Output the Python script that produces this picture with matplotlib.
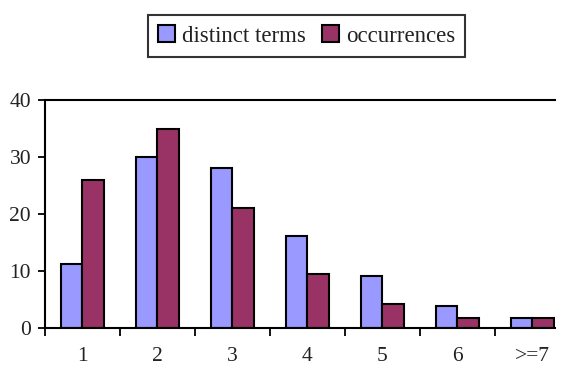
import matplotlib
matplotlib.use("Agg")
from matplotlib import pyplot as plt
import numpy as np

categorias = ["1", "2", "3", "4", "5", "6", ">=7"]
distintos = [11.3, 30, 28, 16.2, 9.2, 3.9, 1.8]
ocurrencias = [26, 35, 21, 9.5, 4.2, 1.8, 1.8]

plt.rcParams['font.family'] = ['Liberation Serif', 'DejaVu Serif']

fig = plt.figure(figsize=(5.65, 3.69), dpi=100)
ax = fig.add_axes([0.0796, 0.111, 0.982 - 0.0796, 0.729 - 0.111])

x = np.arange(len(categorias))
ancho = 0.285
b1 = ax.bar(x - ancho / 2, distintos, ancho, color='#9999FF', edgecolor='black', linewidth=1.5,
            label='distinct terms')
b2 = ax.bar(x + ancho / 2, ocurrencias, ancho, color='#993366', edgecolor='black', linewidth=1.5,
            label='occurrences')

ax.set_ylim(0, 40)
ax.set_xlim(-0.5, 6.3)
ax.set_yticks([0, 10, 20, 30, 40])
ax.tick_params(axis='y', direction='out', length=5, width=1.3, labelsize=15.5, pad=5,
               labelcolor='#222222')

# ticks en los limites de cada categoria, etiquetas centradas
ax.set_xticks(np.arange(-0.5, 6.5, 1.0))
ax.set_xticklabels([])
ax.set_xticks(x, minor=True)
ax.set_xticklabels(categorias, minor=True, fontsize=15.5, color='#222222')
ax.tick_params(axis='x', which='major', direction='out', length=6, width=1.3)
ax.tick_params(axis='x', which='minor', length=0, pad=14)

for lado in ['left', 'bottom', 'top']:
    ax.spines[lado].set_linewidth(1.5)
ax.spines['right'].set_visible(False)

leg = fig.legend(handles=[b1, b2], loc='center', bbox_to_anchor=(0.5425, 0.902), ncol=2,
                 fontsize=16.5, frameon=True, fancybox=False, handlelength=0.75, handleheight=0.75,
                 handletextpad=0.3, columnspacing=0.7, borderpad=0.45, labelcolor='#222222')
leg.get_frame().set_edgecolor('black')
leg.get_frame().set_linewidth(1.5)

fig.savefig('out.png', dpi=100)
